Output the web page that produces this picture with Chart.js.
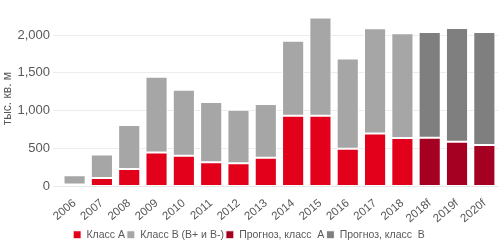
<!DOCTYPE html>
<html>
<head>
<meta charset="utf-8">
<script src="https://cdn.jsdelivr.net/npm/chart.js@4"></script>
<style>
  html, body { margin: 0; padding: 0; background: #fff; }
  #wrap { width: 500px; height: 250px; }
</style>
</head>
<body>
<div id="wrap"><canvas id="c"></canvas></div>
<script>
// data
const years = ["2006", "2007", "2008", "2009", "2010", "2011", "2012", "2013", "2014", "2015", "2016", "2017", "2018", "2018f", "2019f", "2020f"];
const classA = [27, 111, 231, 449, 404, 320, 307, 378, 933, 933, 498, 698, 640, null, null, null];
const classB = [120, 311, 582, 1000, 872, 796, 706, 711, 991, 1298, 1191, 1391, 1382, null, null, null];
const forecastA = [null, null, null, null, null, null, null, null, null, null, null, null, null, 644, 591, 547];
const forecastB = [null, null, null, null, null, null, null, null, null, null, null, null, null, 1396, 1502, 1493];
const yTicks = [0, 500, 1000, 1500, 2000];

const txt = "#595959";

function ds(label, data, color) {
  return {
    label: label,
    data: data,
    backgroundColor: color,
    borderColor: "#ffffff",
    borderWidth: 1,
    borderSkipped: false,
    categoryPercentage: 0.9,
    barPercentage: 0.9
  };
}

new Chart(document.getElementById("c"), {
  type: "bar",
  data: {
    labels: years,
    datasets: [
      ds("Класс А", classA, "#e2001a"),
      ds("Класс В (В+ и В-)", classB, "#a6a6a6"),
      ds("Прогноз, класс  А", forecastA, "#a50021"),
      ds("Прогноз, класс  В", forecastB, "#7f7f7f")
    ]
  },
  options: {
    responsive: true,
    maintainAspectRatio: false,
    animation: false,
    layout: { padding: { top: 4, right: 2, left: 0, bottom: 0 } },
    plugins: {
      legend: {
        position: "bottom",
        labels: {
          color: txt,
          font: { family: "Liberation Sans", size: 10.5 },
          boxWidth: 8,
          boxHeight: 8,
          padding: 2
        }
      },
      tooltip: { enabled: false }
    },
    scales: {
      x: {
        stacked: true,
        grid: { display: false },
        border: { display: true, color: "#e6e6e6" },
        ticks: {
          color: txt,
          font: { family: "Liberation Sans", size: 11.5 },
          maxRotation: 40,
          minRotation: 40,
          padding: 2
        }
      },
      y: {
        stacked: true,
        min: 0,
        max: 2320,
        afterBuildTicks: (scale) => {
          scale.ticks = yTicks.map((v) => ({ value: v }));
        },
        grid: { color: "#ececec" },
        border: { display: false },
        title: {
          display: true,
          text: "тыс. кв. м",
          color: txt,
          font: { family: "Liberation Sans", size: 12 },
          padding: 0
        },
        ticks: {
          color: txt,
          font: { family: "Liberation Sans", size: 13 },
          callback: (v) => v.toLocaleString("en-US")
        }
      }
    }
  }
});
</script>
</body>
</html>
